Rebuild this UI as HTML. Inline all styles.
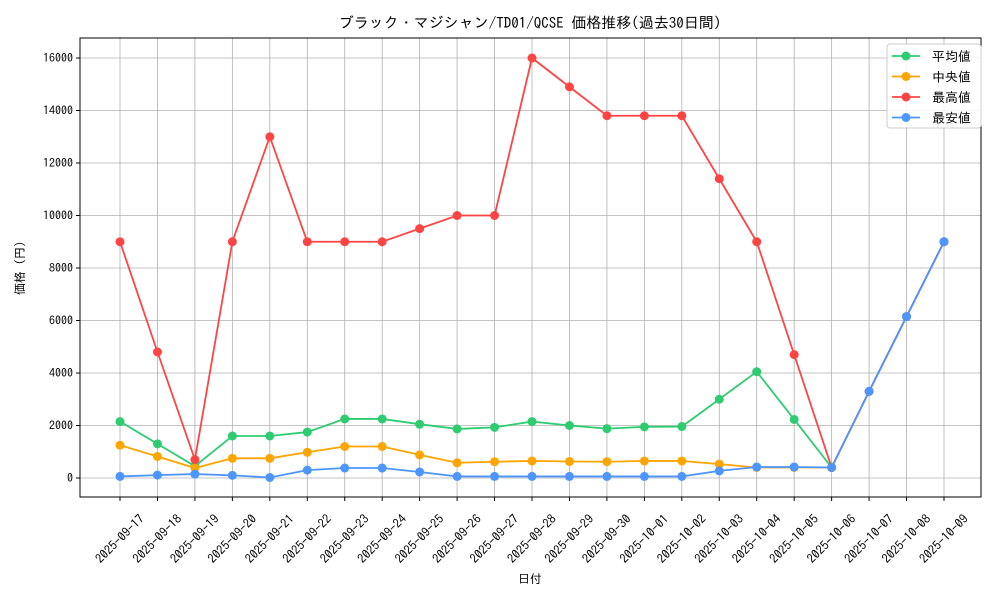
<!DOCTYPE html>
<html><head><meta charset="utf-8"><style>
body{margin:0;background:#fff;}
svg text{font-family:"IPAGothic","Liberation Sans","Noto Sans CJK JP",sans-serif;fill:#000;}
</style></head><body>
<svg id="s" width="1000" height="600" xmlns="http://www.w3.org/2000/svg"></svg>
<script>
const s=document.getElementById('s');
const L=80,R=981,T=38,B=497;
const X0=120,DX=(944-120)/22;
const y=v=>478-v*420/16000;
const dates=["2025-09-17","2025-09-18","2025-09-19","2025-09-20","2025-09-21","2025-09-22","2025-09-23","2025-09-24","2025-09-25","2025-09-26","2025-09-27","2025-09-28","2025-09-29","2025-09-30","2025-10-01","2025-10-02","2025-10-03","2025-10-04","2025-10-05","2025-10-06","2025-10-07","2025-10-08","2025-10-09"];
const series=[
["#2ecc71",[2150,1300,450,1600,1600,1750,2250,2250,2050,1870,1930,2150,2000,1880,1950,1960,3000,4050,2230,400,3300,6150,9000]],
["#ffa500",[1250,820,380,750,750,980,1200,1200,880,580,620,650,630,620,650,650,530,400,400,400,3300,6150,9000]],
["#ff4444",[9000,4800,700,9000,13000,9000,9000,9000,9500,10000,10000,16000,14900,13800,13800,13800,11400,9000,4700,400,3300,6150,9000]],
["#4d96ff",[60,110,150,100,20,300,380,380,230,60,60,60,60,60,60,60,270,420,420,400,3300,6150,9000]]];
let h='';
for(let i=0;i<23;i++){const x=X0+i*DX;h+=`<line x1="${x}" y1="${T}" x2="${x}" y2="${B}" stroke="#b0b0b0" stroke-width="0.8"/><line x1="${x}" y1="${B}" x2="${x}" y2="${B+4}" stroke="#000"/>`;
h+=`<text transform="translate(${x},${B+42}) rotate(-45)" text-anchor="middle" font-size="12.5" dy="4">${dates[i]}</text>`;}
for(let v=0;v<=16000;v+=2000){const yy=y(v);h+=`<line x1="${L}" y1="${yy}" x2="${R}" y2="${yy}" stroke="#b0b0b0" stroke-width="0.8"/><line x1="${L-4}" y1="${yy}" x2="${L}" y2="${yy}" stroke="#000"/><text x="${L-7}" y="${yy+4}" text-anchor="end" font-size="12">${v}</text>`;}
for(const [c,d] of series){h+=`<polyline fill="none" stroke="${c}" stroke-width="1.8" points="${d.map((v,i)=>(X0+i*DX)+','+y(v)).join(' ')}"/>`;
d.forEach((v,i)=>h+=`<circle cx="${X0+i*DX}" cy="${y(v)}" r="4.5" fill="${c}"/>`);}
h+=`<rect x="${L}" y="${T}" width="${R-L}" height="${B-T}" fill="none" stroke="#000" stroke-width="1"/>`;
h+=`<text x="530" y="28" text-anchor="middle" font-size="15">ブラック・マジシャン/TD01/QCSE 価格推移(過去30日間)</text>`;
h+=`<text x="530" y="583" text-anchor="middle" font-size="12">日付</text>`;
h+=`<text transform="translate(24,268) rotate(-90)" text-anchor="middle" font-size="12">価格 (円)</text>`;
h+=`<rect x="887" y="44" width="94" height="84" rx="3" fill="#fff" fill-opacity="0.85" stroke="#ccc"/>`;
const names=["平均値","中央値","最高値","最安値"];
series.forEach(([c],i)=>{const yy=56+i*20.5;h+=`<line x1="892" y1="${yy}" x2="920" y2="${yy}" stroke="${c}" stroke-width="1.8"/><circle cx="906" cy="${yy}" r="4.5" fill="${c}"/><text x="932" y="${yy+5}" font-size="13">${names[i]}</text>`;});
s.innerHTML=h;
</script>
</body></html>
